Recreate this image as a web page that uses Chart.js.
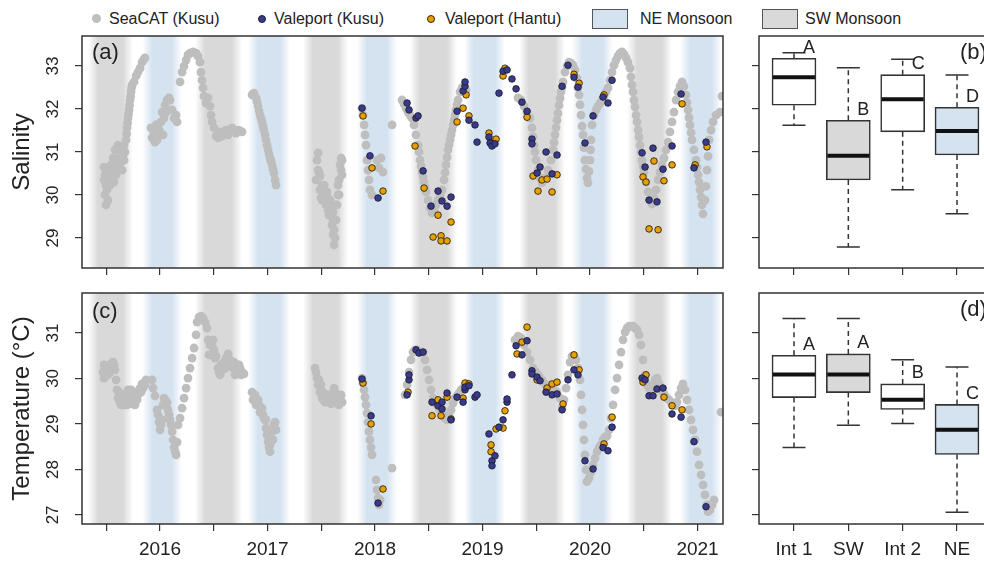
<!DOCTYPE html>
<html>
<head>
<meta charset="utf-8">
<script src="https://cdn.jsdelivr.net/npm/chart.js@4.4.1/dist/chart.umd.min.js"></script>
<style>
  html, body { margin: 0; padding: 0; background: #fff; width: 984px; height: 562px; overflow: hidden; position: relative; }
  body { font-family: "Liberation Sans", Arial, Helvetica, sans-serif; color: #222; }
  canvas { position: absolute; }
  .li { position: absolute; top: 10px; font-size: 16px; line-height: 18px; white-space: nowrap; }
  .dot { position: absolute; border-radius: 50%; box-sizing: border-box; }
  .key { position: absolute; top: 9px; width: 36px; height: 20px; border: 1px solid #555; box-sizing: border-box; }
</style>
</head>
<body>
<div id="legend">
  <span class="dot" style="left:92px;top:14px;width:9px;height:9px;background:#bebebe"></span>
  <span class="li" style="left:109px">SeaCAT (Kusu)</span>
  <span class="dot" style="left:258px;top:15px;width:8px;height:8px;background:#393a8c;border:1px solid #1e1e30"></span>
  <span class="li" style="left:274px">Valeport (Kusu)</span>
  <span class="dot" style="left:427px;top:15px;width:8px;height:8px;background:#e8a000;border:1px solid #2e2410"></span>
  <span class="li" style="left:445px">Valeport (Hantu)</span>
  <span class="key" style="left:592px;background:#d5e3f0"></span>
  <span class="li" style="left:640px">NE Monsoon</span>
  <span class="key" style="left:762px;background:#d9d9d9"></span>
  <span class="li" style="left:805px">SW Monsoon</span>
</div>
<canvas id="salSeries" width="740" height="280" style="left:0;top:0"></canvas>
<canvas id="tempSeries" width="740" height="282" style="left:0;top:280px"></canvas>
<canvas id="salBox" width="260" height="280" style="left:740px;top:0"></canvas>
<canvas id="tempBox" width="260" height="282" style="left:740px;top:280px"></canvas>
<script>
// ---- monsoon periods (decimal years) ----
const swMonsoon = [[2015.377, 2015.702], [2016.372, 2016.716], [2017.377, 2017.702], [2018.372, 2018.716], [2019.386, 2019.721], [2020.391, 2020.716]];
const neMonsoon = [[2015.879, 2016.158], [2016.865, 2017.163], [2017.879, 2018.158], [2018.874, 2019.163], [2019.879, 2020.167], [2020.884, 2021.181]];

// ---- axis ticks ----
const timeTicks = [2015.5, 2016, 2016.5, 2017, 2017.5, 2018, 2018.5, 2019, 2019.5, 2020, 2020.5, 2021];
const salinityTicks = [29, 30, 31, 32, 33];
const tempTicks = [27, 28, 29, 30, 31];
const boxGroups = ['Int 1', 'SW', 'Int 2', 'NE'];

// ---- salinity time series: [decimal year, salinity] ----
const seacatSalinity = [
  [2015.479,30.65],[2015.479,30.35],[2015.488,30.00],[2015.488,30.47],[2015.497,29.77],[2015.497,30.23],[2015.507,30.12],[2015.507,30.40],
  [2015.516,29.88],[2015.516,30.60],[2015.525,30.23],[2015.535,30.46],[2015.535,30.23],[2015.544,30.70],[2015.553,30.58],[2015.563,30.86],
  [2015.572,30.53],[2015.572,30.30],[2015.581,31.05],[2015.591,30.70],[2015.591,30.47],[2015.600,30.81],[2015.609,31.16],[2015.609,30.63],
  [2015.619,30.86],[2015.628,31.05],[2015.628,30.81],[2015.637,30.77],[2015.647,31.09],[2015.647,30.58],[2015.656,30.93],[2015.665,31.16],
  [2015.665,30.81],[2015.674,31.00],[2015.684,31.28],
  [2015.689,31.42],[2015.693,31.56],[2015.698,31.67],[2015.702,31.79],[2015.707,31.88],[2015.712,31.98],[2015.716,32.09],[2015.721,32.21],
  [2015.726,32.30],[2015.730,32.40],[2015.735,32.49],[2015.740,32.56],[2015.758,32.63],[2015.777,32.77],[2015.795,32.86],[2015.814,32.95],
  [2015.833,33.09],[2015.851,33.16],[2015.860,33.19],
  [2015.916,31.56],[2015.926,31.33],[2015.935,31.51],[2015.944,31.40],[2015.953,31.23],[2015.963,31.63],[2015.972,31.28],[2015.981,31.63],
  [2015.991,31.51],[2016.000,31.40],[2016.009,31.70],[2016.019,31.93],
  [2016.028,31.40],[2016.037,31.79],[2016.047,32.09],[2016.056,31.93],[2016.065,32.21],[2016.084,32.26],[2016.093,32.21],[2016.112,31.98],
  [2016.130,31.79],[2016.149,31.86],[2016.158,31.70],
  [2016.186,32.63],[2016.205,32.86],[2016.223,33.00],[2016.242,33.14],[2016.260,33.26],[2016.279,33.30],[2016.307,33.33],[2016.335,33.30],
  [2016.353,33.23],[2016.372,33.09],[2016.381,32.86],[2016.391,32.67],[2016.400,32.49],[2016.409,32.30],[2016.428,32.14],[2016.447,32.26],
  [2016.465,32.07],[2016.474,31.86],[2016.484,31.70],[2016.502,31.56],[2016.521,31.37],[2016.540,31.33],[2016.558,31.47],[2016.577,31.37],
  [2016.595,31.42],[2016.614,31.51],[2016.633,31.40],[2016.651,31.49],[2016.670,31.56],[2016.688,31.49],[2016.707,31.44],[2016.726,31.51],
  [2016.744,31.49],[2016.763,31.47],
  [2016.856,32.33],[2016.865,32.35],[2016.874,32.37],[2016.893,32.26],[2016.902,32.17],[2016.912,32.07],[2016.921,31.96],[2016.930,31.86],
  [2016.940,31.78],[2016.949,31.70],[2016.958,31.60],[2016.967,31.51],[2016.977,31.40],[2016.986,31.28],[2016.995,31.16],[2017.005,31.05],
  [2017.014,30.95],[2017.023,30.86],[2017.033,30.78],[2017.042,30.70],[2017.051,30.60],[2017.060,30.51],[2017.070,30.35],[2017.079,30.23],
  [2017.451,30.35],[2017.460,30.81],[2017.470,30.98],[2017.470,30.58],[2017.479,30.53],[2017.488,30.12],[2017.488,30.44],[2017.498,29.93],
  [2017.507,30.23],[2017.507,29.88],[2017.526,30.00],[2017.526,30.23],[2017.544,29.77],[2017.544,30.00],[2017.553,30.07],[2017.563,29.65],
  [2017.563,29.93],[2017.572,29.77],[2017.572,29.53],[2017.581,29.88],[2017.591,29.53],[2017.591,29.77],[2017.600,29.30],[2017.609,29.07],
  [2017.609,29.60],[2017.609,29.42],[2017.619,28.84],[2017.619,29.19],[2017.628,29.00],[2017.628,29.77],[2017.637,29.42],[2017.647,29.77],
  [2017.656,30.00],[2017.656,30.23],[2017.665,30.35],[2017.665,30.00],[2017.674,30.70],[2017.684,30.86],[2017.684,30.58],[2017.693,30.47],
  [2017.693,30.81],
  [2017.879,32.02],[2017.888,31.86],[2017.898,31.63],[2017.907,31.40],[2017.916,31.16],[2017.926,30.81],[2017.935,30.58],[2017.944,30.35],
  [2017.953,30.12],[2017.972,30.00],[2018.019,30.81],[2018.037,30.63],[2018.056,30.86],[2018.074,30.53],[2018.158,31.63],
  [2018.251,32.21],[2018.270,32.12],[2018.288,32.02],[2018.307,31.93],[2018.326,31.86],[2018.344,31.79],[2018.363,31.63],[2018.381,31.40],
  [2018.400,31.16],[2018.409,31.00],[2018.419,30.81],[2018.428,30.67],[2018.437,30.53],[2018.446,30.42],[2018.456,30.30],[2018.465,30.18],
  [2018.474,30.07],[2018.493,29.88],[2018.512,29.70],[2018.530,29.58],[2018.549,29.65],[2018.567,29.77],[2018.586,29.88],[2018.605,29.98],
  [2018.623,30.12],[2018.642,30.35],[2018.651,30.52],[2018.660,30.70],[2018.670,30.88],[2018.679,31.05],[2018.688,31.17],[2018.698,31.28],
  [2018.707,31.40],[2018.716,31.51],[2018.726,31.63],[2018.735,31.74],[2018.744,31.86],[2018.753,31.98],[2018.763,32.10],[2018.772,32.21],
  [2018.791,32.40],[2018.809,32.49],[2018.828,32.53],[2018.847,32.44],
  [2019.330,32.26],[2019.358,32.21],[2019.386,32.07],[2019.414,31.93],[2019.442,31.79],[2019.460,31.56],[2019.470,31.36],[2019.479,31.16],
  [2019.488,31.00],[2019.498,30.81],[2019.516,30.58],[2019.535,30.40],[2019.553,30.28],[2019.581,30.40],[2019.609,30.58],[2019.637,30.81],
  [2019.656,31.05],[2019.665,31.22],[2019.674,31.40],[2019.684,31.57],[2019.693,31.74],[2019.702,31.90],[2019.712,32.09],[2019.721,32.25],
  [2019.730,32.40],[2019.740,32.50],[2019.749,32.63],[2019.767,32.86],[2019.786,33.00],[2019.805,33.09],[2019.823,33.07],[2019.842,33.02],
  [2019.860,32.91],[2019.879,32.72],[2019.888,32.50],[2019.898,32.33],[2019.907,32.10],[2019.916,31.86],[2019.926,31.60],[2019.935,31.40],
  [2019.944,31.10],[2019.953,30.81],[2019.963,30.60],[2019.972,30.40],[2019.981,30.28],[2019.991,30.55],[2020.000,30.81],[2020.005,31.05],
  [2020.009,31.28],[2020.019,31.63],[2020.037,31.86],[2020.056,31.98],[2020.074,32.07],[2020.093,32.14],[2020.112,32.21],[2020.130,32.30],
  [2020.149,32.40],[2020.167,32.49],[2020.186,32.67],[2020.205,32.86],[2020.223,33.02],[2020.242,33.14],[2020.260,33.23],[2020.279,33.30],
  [2020.298,33.33],[2020.316,33.28],[2020.335,33.19],[2020.353,33.09],[2020.372,32.95],[2020.381,32.75],[2020.391,32.56],[2020.400,32.40],
  [2020.409,32.21],[2020.419,32.05],[2020.428,31.86],[2020.437,31.70],[2020.447,31.51],[2020.456,31.35],[2020.465,31.16],[2020.474,31.00],
  [2020.484,30.81],[2020.493,30.67],[2020.502,30.53],[2020.521,30.30],[2020.540,30.07],[2020.558,29.88],[2020.577,29.79],[2020.595,29.93],
  [2020.614,30.12],[2020.633,30.35],[2020.651,30.53],[2020.670,30.70],[2020.688,30.86],[2020.707,31.05],[2020.726,31.23],[2020.744,31.47],
  [2020.763,31.70],[2020.781,31.93],[2020.800,32.21],[2020.819,32.40],[2020.837,32.53],[2020.856,32.63],[2020.874,32.53],[2020.893,32.33],
  [2020.902,32.15],[2020.912,31.98],[2020.921,31.80],[2020.930,31.63],[2020.940,31.45],[2020.949,31.28],[2020.967,31.05],[2020.986,30.81],
  [2020.995,30.65],[2021.005,30.47],[2021.014,30.30],[2021.023,30.12],[2021.033,29.95],[2021.042,29.77],[2021.051,29.56],[2021.070,29.88],
  [2021.079,30.20],[2021.088,30.58],[2021.098,30.90],[2021.107,31.28],[2021.126,31.51],[2021.144,31.70],[2021.172,31.86],[2021.209,31.93],
  [2021.228,32.30]
];
const kusuSalinity = [
  [2017.879,32.02],[2017.953,30.91],[2018.028,29.93],[2018.298,32.14],[2018.316,31.98],[2018.381,31.79],[2018.400,31.84],[2018.447,30.56],
  [2018.521,29.74],[2018.586,30.09],[2018.623,29.86],[2018.670,29.74],[2018.707,29.95],[2018.763,31.95],[2018.819,32.42],[2018.837,32.53],
  [2018.837,32.63],[2018.874,31.74],[2018.930,31.63],[2018.949,31.23],[2019.060,31.35],[2019.070,31.21],[2019.088,31.14],[2019.116,31.19],
  [2019.153,32.37],[2019.191,32.88],[2019.228,32.91],[2019.274,32.70],[2019.312,32.47],[2019.367,32.16],[2019.414,31.95],[2019.460,31.30],
  [2019.460,31.19],[2019.507,30.51],[2019.535,30.65],[2019.591,31.00],[2019.647,30.49],[2019.693,30.93],[2019.740,32.53],[2019.795,33.02],
  [2019.851,32.74],[2019.888,32.51],[2019.953,31.21],[2020.028,31.84],[2020.121,32.28],[2020.167,32.14],[2020.205,32.67],[2020.484,30.98],
  [2020.512,30.65],[2020.549,29.88],[2020.586,31.09],[2020.623,29.84],[2020.679,30.60],[2020.763,31.14],[2020.847,32.35],[2020.967,30.63],
  [2021.079,31.23]
];
const hantuSalinity = [
  [2017.888,31.84],[2017.972,30.63],[2018.074,30.09],[2018.372,31.14],[2018.456,30.16],[2018.586,29.53],[2018.707,29.37],[2018.540,29.02],
  [2018.614,29.05],[2018.614,28.93],[2018.670,28.93],[2018.763,31.70],[2018.819,32.02],[2018.847,32.33],[2018.874,31.84],[2019.060,31.44],
  [2019.079,31.23],[2019.126,31.30],[2019.191,32.77],[2019.209,32.95],[2019.414,31.81],[2019.470,30.44],[2019.516,30.09],[2019.553,30.35],
  [2019.600,30.37],[2019.647,30.07],[2019.693,30.47],[2019.851,32.81],[2019.898,32.60],[2020.130,32.33],[2020.493,30.42],[2020.521,30.30],
  [2020.549,29.21],[2020.595,30.79],[2020.633,29.19],[2020.688,30.33],[2020.763,30.70],[2020.856,32.12],[2020.977,30.70],[2021.088,31.12]
];

// ---- temperature time series: [decimal year, degC] ----
const seacatTemp = [
  [2015.470,30.14],[2015.479,30.01],[2015.479,30.30],[2015.488,30.23],[2015.497,30.08],[2015.507,30.19],[2015.516,30.08],[2015.526,30.28],
  [2015.535,30.14],[2015.544,30.32],[2015.553,30.19],[2015.563,30.36],[2015.572,30.30],
  [2015.581,30.19],[2015.591,29.97],[2015.600,29.75],[2015.609,29.57],[2015.619,29.70],[2015.628,29.48],[2015.637,29.42],[2015.647,29.64],
  [2015.656,29.53],[2015.665,29.42],[2015.674,29.64],[2015.684,29.57],[2015.693,29.42],[2015.702,29.75],[2015.712,29.53],[2015.721,29.64],
  [2015.730,29.75],[2015.740,29.44],[2015.749,29.64],[2015.758,29.57],[2015.767,29.42],[2015.777,29.70],[2015.786,29.53],[2015.795,29.64],
  [2015.805,29.70],[2015.814,29.79],[2015.823,29.70],[2015.833,29.88],[2015.842,29.79],[2015.851,29.90],[2015.860,29.86],[2015.870,29.97],
  [2015.926,29.97],[2015.935,29.79],[2015.953,29.62],[2015.972,29.31],[2015.981,29.20],[2015.991,29.04],[2016.000,28.87],[2016.009,28.98],
  [2016.019,29.09],[2016.028,29.42],[2016.037,29.57],[2016.047,29.53],[2016.056,29.42],[2016.065,29.48],[2016.074,29.31],[2016.084,29.20],
  [2016.093,29.09],[2016.102,28.98],[2016.112,28.83],[2016.121,28.65],[2016.130,28.48],[2016.140,28.39],
  [2016.149,28.32],[2016.158,28.60],[2016.167,28.98],[2016.186,29.13],[2016.205,29.35],[2016.223,29.57],[2016.242,29.79],[2016.260,30.01],
  [2016.279,30.23],[2016.298,30.45],[2016.316,30.67],[2016.335,30.96],[2016.344,31.24],[2016.363,31.35],[2016.381,31.37],[2016.400,31.33],
  [2016.419,31.24],[2016.437,31.11],[2016.447,30.85],[2016.456,30.52],[2016.465,30.74],[2016.484,30.72],[2016.493,30.85],[2016.502,30.63],
  [2016.512,30.45],[2016.521,30.49],[2016.540,30.23],[2016.549,30.14],[2016.558,30.08],[2016.567,30.30],[2016.577,30.19],[2016.595,30.36],
  [2016.605,30.23],[2016.614,30.45],[2016.623,30.36],[2016.633,30.54],[2016.642,30.32],[2016.651,30.41],[2016.670,30.32],[2016.679,30.23],
  [2016.688,30.36],[2016.698,30.08],[2016.707,30.19],[2016.726,30.14],[2016.735,30.30],[2016.744,30.23],[2016.753,30.08],[2016.763,30.14],
  [2016.781,30.10],
  [2016.856,29.70],[2016.865,29.53],[2016.874,29.57],[2016.884,29.64],[2016.893,29.42],[2016.902,29.48],[2016.912,29.53],[2016.921,29.42],
  [2016.930,29.26],[2016.940,29.31],[2016.949,29.35],[2016.958,29.20],[2016.967,29.13],[2016.977,29.09],[2016.986,28.91],[2016.986,29.09],
  [2016.995,28.76],[2017.005,28.61],[2017.005,28.83],[2017.014,28.48],[2017.023,28.54],[2017.023,28.39],[2017.033,28.69],[2017.042,28.83],
  [2017.051,28.65],[2017.060,28.98],[2017.070,29.04],[2017.079,28.87],
  [2017.442,30.23],[2017.451,30.14],[2017.460,30.01],[2017.470,29.86],[2017.479,29.97],[2017.488,29.70],[2017.498,29.86],[2017.507,29.57],
  [2017.516,29.70],[2017.526,29.53],[2017.535,29.48],[2017.544,29.64],[2017.553,29.57],[2017.563,29.48],[2017.572,29.64],[2017.581,29.53],
  [2017.591,29.44],[2017.600,29.64],[2017.609,29.57],[2017.619,29.79],[2017.628,29.70],[2017.637,29.57],[2017.647,29.53],[2017.656,29.44],
  [2017.665,29.42],[2017.674,29.57],[2017.684,29.64],[2017.693,29.48],
  [2017.879,30.01],[2017.888,29.90],[2017.898,29.75],[2017.907,29.59],[2017.916,29.42],[2017.926,29.24],[2017.935,29.04],[2017.944,28.83],
  [2017.953,28.65],[2017.963,28.48],[2017.972,28.32],[2018.009,27.77],[2018.019,27.55],[2018.028,27.37],[2018.037,27.22],[2018.047,27.33],
  [2018.158,28.03],
  [2018.279,29.64],[2018.298,29.86],[2018.316,30.14],[2018.335,30.41],[2018.353,30.58],[2018.372,30.63],[2018.391,30.63],[2018.409,30.58],
  [2018.428,30.58],[2018.447,30.58],[2018.465,30.41],[2018.484,30.19],[2018.502,29.97],[2018.521,29.75],[2018.540,29.57],[2018.558,29.48],
  [2018.577,29.42],[2018.595,29.35],[2018.614,29.26],[2018.633,29.20],[2018.651,29.13],[2018.670,29.09],[2018.688,29.20],[2018.707,29.31],
  [2018.726,29.46],[2018.744,29.57],[2018.763,29.62],[2018.781,29.68],[2018.800,29.75],[2018.819,29.79],[2018.837,29.84],[2018.856,29.88],
  [2019.302,30.85],[2019.330,30.93],[2019.358,30.89],[2019.386,30.74],[2019.414,30.58],[2019.442,30.41],[2019.470,30.23],[2019.498,30.14],
  [2019.526,30.06],[2019.553,29.97],[2019.581,29.88],[2019.609,29.79],[2019.637,29.79],[2019.665,29.75],[2019.693,29.70],[2019.721,29.57],
  [2019.740,29.35],[2019.758,29.53],[2019.777,29.79],[2019.795,30.08],[2019.814,30.36],[2019.833,30.49],[2019.851,30.49],[2019.870,30.41],
  [2019.888,30.23],[2019.907,29.97],[2019.916,29.64],[2019.926,29.31],[2019.935,28.98],[2019.944,28.65],[2019.953,28.32],[2019.963,27.99],
  [2019.972,27.73],[2019.991,27.81],[2020.009,27.94],[2020.028,28.10],[2020.047,28.25],[2020.065,28.39],[2020.084,28.48],[2020.102,28.54],
  [2020.121,28.65],[2020.140,28.71],[2020.158,28.74],[2020.177,28.87],[2020.195,29.13],[2020.214,29.42],[2020.233,29.75],[2020.251,30.01],
  [2020.270,30.30],[2020.288,30.58],[2020.307,30.85],[2020.326,31.02],[2020.344,31.11],[2020.363,31.15],[2020.381,31.15],[2020.400,31.15],
  [2020.419,31.11],[2020.437,31.07],[2020.456,30.96],[2020.474,30.74],[2020.493,30.41],[2020.512,30.08],[2020.530,29.86],[2020.549,29.79],
  [2020.567,29.75],[2020.586,29.84],[2020.605,29.97],[2020.623,30.01],[2020.642,29.88],[2020.660,29.75],[2020.679,29.70],[2020.698,29.62],
  [2020.716,29.57],[2020.735,29.53],[2020.753,29.48],[2020.772,29.44],[2020.791,29.40],[2020.809,29.48],[2020.828,29.64],[2020.847,29.79],
  [2020.865,29.88],[2020.884,29.75],[2020.902,29.53],[2020.921,29.31],[2020.940,29.09],[2020.958,28.87],[2020.977,28.65],[2020.995,28.39],
  [2021.014,28.10],[2021.033,27.88],[2021.051,27.66],[2021.070,27.44],[2021.088,27.22],[2021.098,27.07],[2021.116,27.11],[2021.135,27.22],
  [2021.153,27.33],[2021.219,29.26]
];
const kusuTemp = [
  [2017.879,29.99],[2017.963,29.18],[2018.028,27.26],[2018.298,29.64],[2018.316,29.97],[2018.316,30.08],[2018.381,30.63],[2018.409,30.56],
  [2018.447,30.58],[2018.530,29.48],[2018.586,29.40],[2018.623,29.33],[2018.623,29.48],[2018.670,29.68],[2018.707,29.09],[2018.763,29.59],
  [2018.819,29.48],[2018.837,29.75],[2018.837,29.81],[2018.874,29.84],[2018.930,29.59],[2018.949,29.64],[2019.060,28.78],[2019.088,28.19],
  [2019.088,28.08],[2019.116,28.30],[2019.153,28.93],[2019.191,29.09],[2019.228,29.48],[2019.228,29.55],[2019.274,30.08],[2019.312,30.72],
  [2019.367,30.52],[2019.414,30.83],[2019.460,30.17],[2019.460,30.10],[2019.507,30.03],[2019.535,29.95],[2019.591,29.70],[2019.647,29.64],
  [2019.693,29.66],[2019.740,29.31],[2019.795,29.97],[2019.851,30.19],[2019.888,30.08],[2019.953,28.19],[2020.028,28.01],[2020.121,28.48],
  [2020.167,28.41],[2020.205,28.93],[2020.484,30.01],[2020.512,29.97],[2020.549,29.62],[2020.586,29.62],[2020.623,29.77],[2020.679,29.79],
  [2020.763,29.22],[2020.847,29.15],[2020.967,28.61],[2021.079,27.18]
];
const hantuTemp = [
  [2017.888,29.90],[2017.963,29.00],[2018.074,27.57],[2018.307,29.70],[2018.530,29.18],[2018.586,29.53],[2018.614,29.18],[2018.670,29.59],
  [2018.707,29.11],[2018.819,29.57],[2018.837,29.90],[2018.874,29.88],[2019.079,28.54],[2019.079,28.39],[2019.126,28.89],[2019.191,28.91],
  [2019.209,29.29],[2019.321,30.54],[2019.367,30.80],[2019.414,31.13],[2019.507,29.97],[2019.600,29.79],[2019.647,29.88],[2019.693,29.92],
  [2019.749,29.44],[2019.851,30.52],[2019.898,30.19],[2020.130,28.56],[2020.205,29.15],[2020.493,29.92],[2020.521,30.08],[2020.688,29.59],
  [2020.763,29.40],[2020.856,29.31]
];

// ---- seasonal box-plot summaries (Int 1, SW, Int 2, NE) ----
const salLow  = [31.62, 28.79, 30.12, 29.56];
const salQ1   = [32.09, 30.35, 31.47, 30.93];
const salMed  = [32.74, 30.91, 32.23, 31.49];
const salQ3   = [33.18, 31.74, 32.80, 32.04];
const salHigh = [33.31, 32.96, 33.16, 32.79];
const salLetters = ['A', 'B', 'C', 'D'];
const tempLow  = [28.48, 28.97, 29.01, 27.06];
const tempQ1   = [29.58, 29.69, 29.32, 28.33];
const tempMed  = [30.09, 30.09, 29.53, 28.87];
const tempQ3   = [30.51, 30.54, 29.88, 29.43];
const tempHigh = [31.32, 31.32, 30.41, 30.25];
const tempLetters = ['A', 'A', 'B', 'C'];

// ---- styling ----
const FONT = '"Liberation Sans", Arial, Helvetica, sans-serif';
const INK = '#222';
const AXIS = '#333';
const GREY_PT = '#bebebe';
const NAVY = '#393a8c';
const ORANGE = '#e8a000';
const SW_RGB = [217, 217, 217];
const NE_RGB = [213, 227, 240];
const boxFill = ['#ffffff', '#d9d9d9', '#ffffff', '#d5e3f0'];

Chart.defaults.font.family = FONT;
Chart.defaults.color = INK;

const toXY = arr => arr.map(([x, y]) => ({ x, y }));

// season shading with feathered edges
function softBand(ctx, area, x0, x1, rgb) {
  const f = 5;
  const w = (x1 - x0) + 2 * f;
  const g = ctx.createLinearGradient(x0 - f, 0, x1 + f, 0);
  const c = `rgba(${rgb[0]},${rgb[1]},${rgb[2]},`;
  g.addColorStop(0, c + '0)');
  g.addColorStop(2 * f / w, c + '1)');
  g.addColorStop(1 - 2 * f / w, c + '1)');
  g.addColorStop(1, c + '0)');
  ctx.fillStyle = g;
  ctx.fillRect(x0 - f, area.top, w, area.bottom - area.top);
}

const bandPlugin = {
  id: 'monsoonBands',
  beforeDatasetsDraw(chart) {
    const { ctx, chartArea: a, scales: { x } } = chart;
    ctx.save();
    ctx.beginPath();
    ctx.rect(a.left, a.top, a.right - a.left, a.bottom - a.top);
    ctx.clip();
    swMonsoon.forEach(([s, e]) => softBand(ctx, a, x.getPixelForValue(s), x.getPixelForValue(e), SW_RGB));
    neMonsoon.forEach(([s, e]) => softBand(ctx, a, x.getPixelForValue(s), x.getPixelForValue(e), NE_RGB));
    ctx.restore();
  }
};

// y tick labels set upright along the axis (reading bottom to top)
const uprightYLabels = {
  id: 'uprightYLabels',
  afterDraw(chart) {
    const { ctx, chartArea: a, scales: { y } } = chart;
    ctx.save();
    ctx.fillStyle = INK;
    ctx.font = '17px ' + FONT;
    ctx.textAlign = 'center';
    ctx.textBaseline = 'middle';
    y.ticks.forEach(t => {
      ctx.save();
      ctx.translate(a.left - 29, y.getPixelForValue(t.value));
      ctx.rotate(-Math.PI / 2);
      ctx.fillText(String(t.value), 0, 0);
      ctx.restore();
    });
    ctx.restore();
  }
};

// plot frame plus the panel letter
function framePlugin(tag, fromRight, dy) {
  return {
    id: 'frame',
    afterDraw(chart) {
      const { ctx, chartArea: a } = chart;
      ctx.save();
      ctx.strokeStyle = AXIS;
      ctx.lineWidth = 1.5;
      ctx.strokeRect(a.left, a.top, a.right - a.left, a.bottom - a.top);
      ctx.fillStyle = INK;
      ctx.font = '22px ' + FONT;
      ctx.textBaseline = 'middle';
      ctx.textAlign = 'left';
      ctx.fillText(tag, fromRight ? a.right - 32 : a.left + 10, a.top + dy);
      ctx.restore();
    }
  };
}

function axisGrid() {
  return { drawOnChartArea: false, drawTicks: true, tickLength: 7, color: AXIS, lineWidth: 1.2 };
}

function timeChart(id, seacat, kusu, hantu, yMin, yMax, yTicks, yTitle, tag, tagDy, showYears, pad, xAxisH) {
  return new Chart(document.getElementById(id), {
    type: 'scatter',
    data: {
      datasets: [
        { label: 'Valeport (Kusu)', data: toXY(kusu), order: 1, pointRadius: 3.3,
          pointBackgroundColor: NAVY, pointBorderColor: '#1e1e30', pointBorderWidth: 0.9 },
        { label: 'Valeport (Hantu)', data: toXY(hantu), order: 2, pointRadius: 3.3,
          pointBackgroundColor: ORANGE, pointBorderColor: '#2e2410', pointBorderWidth: 0.9 },
        { label: 'SeaCAT (Kusu)', data: toXY(seacat), order: 3, pointRadius: 4.4,
          pointBackgroundColor: GREY_PT, pointBorderWidth: 0 }
      ].map(d => Object.assign({ clip: 0, pointHoverRadius: 0 }, d))
    },
    options: {
      responsive: false, animation: false, events: [],
      layout: { padding: pad },
      plugins: { legend: { display: false }, tooltip: { enabled: false } },
      scales: {
        x: {
          type: 'linear', min: 2015.274, max: 2021.237,
          afterBuildTicks: s => { s.ticks = timeTicks.map(v => ({ value: v })); },
          ticks: { display: showYears, autoSkip: false, maxRotation: 0, padding: 7,
                   font: { size: 19 }, color: INK,
                   callback: v => Number.isInteger(v) ? String(v) : '' },
          grid: axisGrid(), border: { display: false },
          afterFit: s => { s.height = xAxisH; }
        },
        y: {
          min: yMin, max: yMax,
          afterBuildTicks: s => { s.ticks = yTicks.map(v => ({ value: v })); },
          ticks: { display: false },
          grid: axisGrid(), border: { display: false },
          title: { display: true, text: yTitle, font: { size: 24 }, color: INK, padding: { top: 8, bottom: 0 } },
          afterFit: s => { s.width = 82; }
        }
      }
    },
    plugins: [bandPlugin, uprightYLabels, framePlugin(tag, false, tagDy)]
  });
}

// whiskers, caps, medians and group letters drawn on the chart's own scales
function boxParts(lo, q1, med, q3, hi, letters) {
  return {
    id: 'boxParts',
    beforeDatasetsDraw(chart) {
      const { ctx, scales: { x, y } } = chart;
      ctx.save();
      ctx.strokeStyle = AXIS;
      ctx.lineWidth = 1.5;
      lo.forEach((_, i) => {
        const cx = x.getPixelForValue(i + 1);
        ctx.setLineDash([5, 4]);
        ctx.beginPath();
        ctx.moveTo(cx, y.getPixelForValue(q3[i])); ctx.lineTo(cx, y.getPixelForValue(hi[i]));
        ctx.moveTo(cx, y.getPixelForValue(q1[i])); ctx.lineTo(cx, y.getPixelForValue(lo[i]));
        ctx.stroke();
        ctx.setLineDash([]);
        ctx.beginPath();
        [hi[i], lo[i]].forEach(v => {
          const py = y.getPixelForValue(v);
          ctx.moveTo(cx - 11.5, py); ctx.lineTo(cx + 11.5, py);
        });
        ctx.stroke();
      });
      ctx.restore();
    },
    afterDatasetsDraw(chart) {
      const { ctx, scales: { x, y } } = chart;
      ctx.save();
      med.forEach((m, i) => {
        const cx = x.getPixelForValue(i + 1);
        ctx.strokeStyle = '#111';
        ctx.lineWidth = 4;
        ctx.beginPath();
        ctx.moveTo(cx - 21, y.getPixelForValue(m)); ctx.lineTo(cx + 21, y.getPixelForValue(m));
        ctx.stroke();
        ctx.fillStyle = INK;
        ctx.font = '18px ' + FONT;
        ctx.textAlign = 'left';
        ctx.textBaseline = 'middle';
        ctx.fillText(letters[i], cx + 9, y.getPixelForValue(q3[i]) - 10.5);
      });
      ctx.restore();
    }
  };
}

function boxChart(id, lo, q1, med, q3, hi, letters, yMin, yMax, yTicks, tag, tagDy, showNames, pad, xAxisH) {
  return new Chart(document.getElementById(id), {
    type: 'bar',
    data: {
      datasets: [{
        data: boxGroups.map((g, i) => ({ x: i + 1, y: [q1[i], q3[i]] })),
        backgroundColor: boxFill, borderColor: AXIS, borderWidth: 1.6,
        borderSkipped: false, barThickness: 44
      }]
    },
    options: {
      responsive: false, animation: false, events: [],
      layout: { padding: pad },
      plugins: { legend: { display: false }, tooltip: { enabled: false } },
      scales: {
        x: {
          type: 'linear', min: 0.356, max: 4.644, offset: false,
          afterBuildTicks: s => { s.ticks = boxGroups.map((g, i) => ({ value: i + 1 })); },
          ticks: { display: showNames, autoSkip: false, maxRotation: 0, padding: 7,
                   font: { size: 19 }, color: INK,
                   callback: v => boxGroups[Math.round(v) - 1] },
          grid: Object.assign(axisGrid(), { offset: false }), border: { display: false },
          afterFit: s => { s.height = xAxisH; }
        },
        y: {
          min: yMin, max: yMax,
          afterBuildTicks: s => { s.ticks = yTicks.map(v => ({ value: v })); },
          ticks: { display: false },
          grid: axisGrid(), border: { display: false },
          afterFit: s => { s.width = 19; }
        }
      }
    },
    plugins: [boxParts(lo, q1, med, q3, hi, letters), framePlugin(tag, true, 17)]
  });
}

timeChart('salSeries', seacatSalinity, kusuSalinity, hantuSalinity, 28.30, 33.70, salinityTicks,
          'Salinity', '(a)', 17, false, { left: 0, right: 17, top: 36, bottom: 0 }, 12);
timeChart('tempSeries', seacatTemp, kusuTemp, hantuTemp, 26.80, 31.88, tempTicks,
          'Temperature (°C)', '(c)', 19, true, { left: 0, right: 17, top: 13, bottom: 0 }, 38);
boxChart('salBox', salLow, salQ1, salMed, salQ3, salHigh, salLetters, 28.30, 33.70, salinityTicks,
         '(b)', 17, false, { left: 0, right: 8, top: 36, bottom: 0 }, 12);
boxChart('tempBox', tempLow, tempQ1, tempMed, tempQ3, tempHigh, tempLetters, 26.80, 31.88, tempTicks,
         '(d)', 20, true, { left: 0, right: 8, top: 13, bottom: 0 }, 38);
</script>
</body>
</html>
